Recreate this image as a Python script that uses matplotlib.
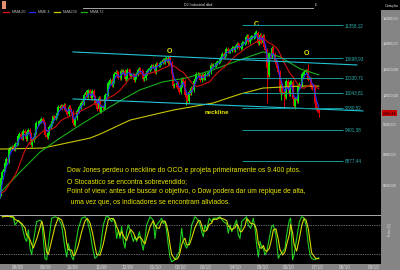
import numpy as np
import pandas as pd
import matplotlib
matplotlib.use("Agg")
import matplotlib.pyplot as plt
from matplotlib.lines import Line2D
from matplotlib.patches import Rectangle
from matplotlib.ticker import FixedLocator, NullLocator, FuncFormatter

plt.rcParams["font.family"] = ["Liberation Sans", "DejaVu Sans"]

# ---- data (DJIA daily closes, first value 17/06/2009, last 02/07/2010) ----
first_day = "2009-06-17"
start_day = "2009-07-16"
holidays = ["2009-07-03", "2009-09-07", "2009-11-26", "2009-12-25", "2010-01-01",
            "2010-01-18", "2010-02-15", "2010-04-02", "2010-05-31", "2010-07-05",
            "2010-09-06"]

closes = [
    8497, 8555, 8539, 8339, 8323, 8299, 8472, 8438, 8529, 8447,
    8504, 8280, 8324, 8163, 8179, 8183, 8146, 8332, 8360, 8616,
    # jul 09
    8711, 8743, 8848, 8916, 8881, 9069, 9093, 9108, 9097, 9071, 9155, 9172,
    # aug
    9286, 9320, 9280, 9256, 9370, 9338, 9242, 9362, 9399, 9321, 9136, 9218,
    9279, 9350, 9506, 9510, 9540, 9543, 9580, 9545, 9496,
    # sep
    9310, 9281, 9345, 9441, 9497, 9547, 9627, 9605, 9627, 9683, 9791, 9784,
    9820, 9779, 9829, 9749, 9707, 9665, 9790, 9742, 9712,
    # oct
    9509, 9487, 9599, 9731, 9726, 9786, 9865, 9885, 9871, 10016, 10063, 9996,
    10092, 10041, 9949, 10081, 9972, 9868, 9882, 9763, 9962, 9713,
    # nov
    9789, 9771, 9802, 10005, 10023, 10227, 10247, 10291, 10197, 10270, 10407,
    10437, 10426, 10332, 10318, 10451, 10434, 10464, 10310, 10345,
    # dec
    10471, 10452, 10366, 10389, 10390, 10286, 10338, 10406, 10471, 10501, 10452,
    10441, 10309, 10329, 10414, 10464, 10467, 10520, 10547, 10545, 10548, 10428,
    # jan 10
    10584, 10573, 10574, 10607, 10619, 10663, 10628, 10681, 10711, 10610, 10726,
    10604, 10389, 10173, 10196, 10194, 10236, 10120, 10067,
    # feb
    10185, 10297, 10270, 10002, 10013, 9908, 10058, 10038, 10144, 10099, 10268,
    10309, 10392, 10403, 10383, 10282, 10374, 10321, 10325,
    # mar
    10403, 10405, 10396, 10444, 10567, 10552, 10564, 10568, 10611, 10625, 10642,
    10686, 10733, 10779, 10742, 10785, 10888, 10836, 10841, 10851, 10895, 10907,
    10857,
    # apr
    10927, 10974, 10970, 10898, 10928, 10997, 11006, 11019, 11123, 11145, 11019,
    11093, 11118, 11125, 11134, 11204, 11205, 10991, 11045, 11168, 11009,
    # may
    11151, 10926, 10868, 10520, 10380, 10785, 10749, 10897, 10782, 10620, 10625,
    10510, 10444, 10068, 10193, 10067, 10043, 9975, 10259, 10137,
    # jun
    10025, 10249, 10255, 9932, 9816, 9940, 9899, 10173, 10212, 10191, 10405,
    10410, 10434, 10450, 10443, 10294, 10298, 10152, 10144, 10138, 9870, 9774,
    # jul
    9732, 9686.48,
]

# long shadows (day number counted from 16/07/2009)
long_lows = {141: 9835, 203: 9870, 214: 9917, 216: 9774, 225: 9757, 243: 9614}
long_highs = {128: 10730, 195: 11258, 235: 10594}

ma72_day = [-1.1, 13.5, 28.9, 44.2, 59.6, 75.0, 90.3, 105.7, 123.3, 141.8,
            161.7, 182.5, 200.1, 213.2, 228.6, 243.0]
ma72_val = [8395, 8701, 9024, 9256, 9477, 9689, 9902, 10103, 10251, 10326,
            10477, 10669, 10825, 10727, 10496, 10382]
ma200_day = [-1.8, 31.2, 67.3, 75.0, 98.0, 131.0, 161.7, 182.5, 200.1, 228.6, 243.0]
ma200_val = [9073, 9090, 9256, 9323, 9563, 9738, 9863, 10026, 10136, 10173, 10173]

stoch_day = [0, 3.3, 8.4, 9.7, 12.2, 14.8, 17.4, 18.6, 19.9, 21.2,
             22.5, 23.8, 26.3, 28.9, 30.2, 31.4, 32.7, 34.0, 35.3, 37.8,
             40.4, 42.9, 45.5, 48.1, 49.4, 50.6, 51.9, 53.2, 54.5, 55.8,
             58.3, 60.9, 63.4, 65.2, 67.3, 69.3, 71.1, 72.4, 75.0, 77.5,
             79.6, 81.4, 83.9, 85.2, 86.5, 87.8, 89.1, 90.3, 91.6, 92.9,
             94.2, 95.4, 96.7, 98.5, 100.6, 101.8, 103.1, 105.2, 107.0, 108.2,
             109.5, 110.8, 113.4, 115.9, 117.2, 118.5, 120.5, 122.3, 123.6, 124.9,
             126.2, 127.4, 128.7, 130.0, 132.6, 134.4, 135.9, 137.7, 139.0, 140.2,
             141.5, 143.6, 145.4, 147.9, 150.5, 151.8, 153.1, 154.3, 155.6, 156.9,
             158.9, 160.7, 162.0, 164.6, 167.1, 169.7, 172.3, 173.5, 174.8, 176.1,
             177.4, 178.7, 179.9, 181.2, 182.5, 183.8, 186.3, 187.6, 188.9, 190.7,
             192.7, 194.0, 195.3, 196.6, 197.9, 199.1, 200.4, 201.7, 203.0, 205.0,
             206.8, 208.1, 210.1, 211.9, 213.2, 215.3, 217.1, 218.3, 220.4, 221.4,
             222.9, 224.0, 226.0, 228.1, 229.9, 231.6, 233.2, 235.0, 236.3, 237.5,
             240.1, 241.4, 243.0]
stoch_k = [97, 99, 95, 80, 90, 80, 52, 46, 70, 32,
           19, 46, 87, 90, 87, 52, 11, 8, 39, 94,
           97, 94, 80, 32, 14, 42, 28, 14, 8, 32,
           73, 94, 97, 90, 66, 32, 11, 14, 28, 80,
           97, 97, 87, 94, 83, 52, 70, 52, 77, 46,
           32, 66, 80, 66, 46, 56, 46, 66, 42, 28,
           52, 80, 97, 90, 52, 80, 87, 94, 83, 87,
           66, 39, 14, 4, 8, 18, 25, 73, 46, 39,
           32, 46, 80, 97, 90, 80, 66, 56, 80, 70,
           94, 87, 94, 94, 97, 87, 83, 63, 80, 66,
           73, 83, 90, 59, 52, 87, 94, 97, 80, 73,
           94, 73, 39, 14, 46, 35, 32, 18, 25, 52,
           77, 80, 59, 11, 18, 25, 32, 59, 90, 94,
           8, 18, 52, 87, 97, 95, 80, 39, 18, 11,
           8, 11, 12]

fib_levels = [11358.12, 10698.93, 10330.71, 10043.81, 9780.52, 9401.38, 8877.44]
fib_from, fib_to = 184, 261.6
channel_day = [54.2, 272.3]
channel_val = [10823, 10570]
neck_day = [54.2, 277.0]
neck_val = [9938, 9724]
price_ticks = [8500, 9000, 9500, 10000, 10500, 11000, 11500]

marks = [("O", 128, 10823), ("C", 194.8, 11368), ("O", 233.2, 10784)]
neck_label = ("neckline", 164.8, 9688)
notes = [
    "Dow Jones perdeu o neckline do OCO e projeta primeiramente os 9.400 ptos.",
    "O Stocastico se encontra sobrevendido;",
    "Point of view: antes de buscar o objetivo, o Dow podera dar um repique de alta,",
    "  uma vez que, os indicadores se encontram aliviados.",
]
legend = [("MMA 20", "#e01010"), ("MME 4", "#2a2aff"), ("MMA200", "#c8c800"), ("MMA 72", "#18b018")]

# ---- figure ---------------------------------------------------------------
W, H = 400, 270
GREEN, RED, YEL = "#00e400", "#e00000", "#e8e800"
fig = plt.figure(figsize=(W / 100, H / 100), dpi=100, facecolor="black")


def fx(px):
    return px / W


def fy(py):
    return 1 - py / H


ax = fig.add_axes([0, fy(210), fx(381), (210 - 14) / H])
st = fig.add_axes([0, fy(264), fx(381), (264 - 210) / H])
for a in (ax, st):
    a.set_facecolor("black")
    for s in a.spines.values():
        s.set_visible(False)
    a.set_xlim(-1.84, 290.8)

cal = pd.bdate_range(first_day, "2010-09-30", freq="C", holidays=holidays)
pos = np.arange(len(cal)) - cal.get_loc(pd.Timestamp(start_day))

close = pd.Series(closes, index=pos[:len(closes)], dtype=float)
opn = close.shift(1).fillna(close.iloc[0])
top = np.maximum(opn, close)
bot = np.minimum(opn, close)
wick = 0.0035
hi = top * (1 + wick)
lo = bot * (1 - wick)
for d, v in long_lows.items():
    lo[d] = v
for d, v in long_highs.items():
    hi[d] = v
cols = np.where(close >= opn, GREEN, RED)
vis = close.index >= -3
ax.vlines(close.index[vis], lo[vis], hi[vis], colors=cols[vis], lw=0.7, zorder=2)
ax.vlines(close.index[vis], bot[vis], top[vis], colors=cols[vis], lw=1.5, zorder=2)

ema4 = close.ewm(span=4, adjust=False).mean()
sma20 = close.rolling(20, min_periods=1).mean()
ax.plot(ma200_day, ma200_val, color="#c8c800", lw=0.8, zorder=3)
ax.plot(ma72_day, ma72_val, color="#18b018", lw=0.8, zorder=3)
ax.plot(sma20.index[vis], sma20[vis], color="#d01010", lw=0.8, zorder=3)
ax.plot(ema4.index[vis], ema4[vis], color="#2a2aff", lw=0.8, zorder=3)

ax.plot(channel_day, channel_val, color="#20c4d4", lw=0.8, zorder=4)
ax.plot(neck_day, neck_val, color="#20c4d4", lw=0.8, zorder=4)
ax.hlines(fib_levels, fib_from, fib_to, color="#129a9a", lw=0.7, zorder=4)
for v in fib_levels:
    ax.text(fib_to + 1.2, v, f"{v:.2f}".replace(".", ","), color="#2ab0b0",
            fontsize=3.3, va="center", ha="left")

for t, d, v in marks:
    ax.text(d, v, t, color=YEL, fontsize=5, fontweight="bold", ha="center", va="center")
ax.text(neck_label[1], neck_label[2], neck_label[0], color=YEL, fontsize=4.4,
        fontweight="bold", ha="center", va="center")

ax.set_yscale("log")
ax.set_ylim(8123, 11595)
ax.yaxis.set_major_locator(FixedLocator(price_ticks))
ax.yaxis.set_minor_locator(NullLocator())
ax.yaxis.set_major_formatter(FuncFormatter(lambda v, p: f"{v:.2f}".replace(".", ",")))
ax.yaxis.tick_right()
ax.tick_params(axis="y", length=0, pad=1.5, labelsize=2.7, labelcolor="#f0f0f0")
ax.tick_params(axis="x", bottom=False, labelbottom=False)

last = close.iloc[-1]
ax.annotate(f"{last:.2f}".replace(".", ","), xy=(1.0, last), xycoords=("axes fraction", "data"),
            xytext=(1.2, 0), textcoords="offset points", fontsize=2.7, color="#200000",
            va="center", ha="left", annotation_clip=False, zorder=10,
            bbox=dict(boxstyle="square,pad=0.25", fc="#c80000", ec="none"))

# stochastic
st.plot(stoch_day, stoch_k, color="#20d020", lw=0.8)
st.plot(stoch_day, pd.Series(stoch_k).rolling(3, min_periods=1).mean(), color="#d8d800", lw=0.8)
st.axhline(100, color="#c8c8c8", lw=0.6)
for lv in (80, 20):
    st.axhline(lv, color="#c8c8c8", lw=0.5, ls=(0, (1, 1.5)))
st.set_ylim(-0.7, 111)
st.set_yticks([])
month_first = ~cal.to_period("M").duplicated() & (cal >= pd.Timestamp("2009-08-01"))
st.set_xticks(pos[month_first])
st.set_xticklabels(cal[month_first].strftime("%m/%y"))
st.tick_params(axis="x", length=0, pad=0.6, labelsize=3.4, labelcolor="#d8d8d8")

# frame pieces
fig.patches.append(Rectangle((fx(381), 0), fx(19), 1 - 10 / H, transform=fig.transFigure,
                             fc="#858585", ec="none", zorder=-5))
fig.patches.append(Rectangle((0, 0), fx(381), 6 / H, transform=fig.transFigure,
                             fc="#858585", ec="none", zorder=-5))
fig.patches.append(Rectangle((fx(2), fy(9)), fx(4), 8 / H, transform=fig.transFigure,
                             fc="#e09070", ec="none"))
fig.add_artist(Line2D([fx(83), fx(313)], [fy(7.5), fy(7.5)], color="#a8a8a8", lw=0.7))
fig.text(fx(198), fy(5.2), "DJ Industrial dbd", color="#e0e0e0", fontsize=2.7, ha="center", va="center")
fig.text(fx(316), fy(5.2), "£", color="#e0e0e0", fontsize=3, ha="center", va="center")
fig.text(fx(399), fy(6), "Cotação", color="#e0e0e0", fontsize=2.7, ha="right", va="center")
fig.text(fx(390), fy(230), "Esto (5)", color="#e0e0e0", fontsize=2.7, rotation=90,
         ha="center", va="center")

lx = [3, 29, 54, 81]
for (name, c), x0 in zip(legend, lx):
    fig.add_artist(Line2D([fx(x0), fx(x0 + 6)], [fy(12), fy(12)], color=c, lw=0.9))
    fig.text(fx(x0 + 9), fy(12), name, color="#b8b8b8", fontsize=2.7, va="center", ha="left")

for i, line in enumerate(notes):
    fig.text(fx(67), fy(171 + 10.4 * i), line, color=YEL, fontsize=4.85, va="center", ha="left")

fig.savefig("out.png", dpi=100, facecolor="black")
